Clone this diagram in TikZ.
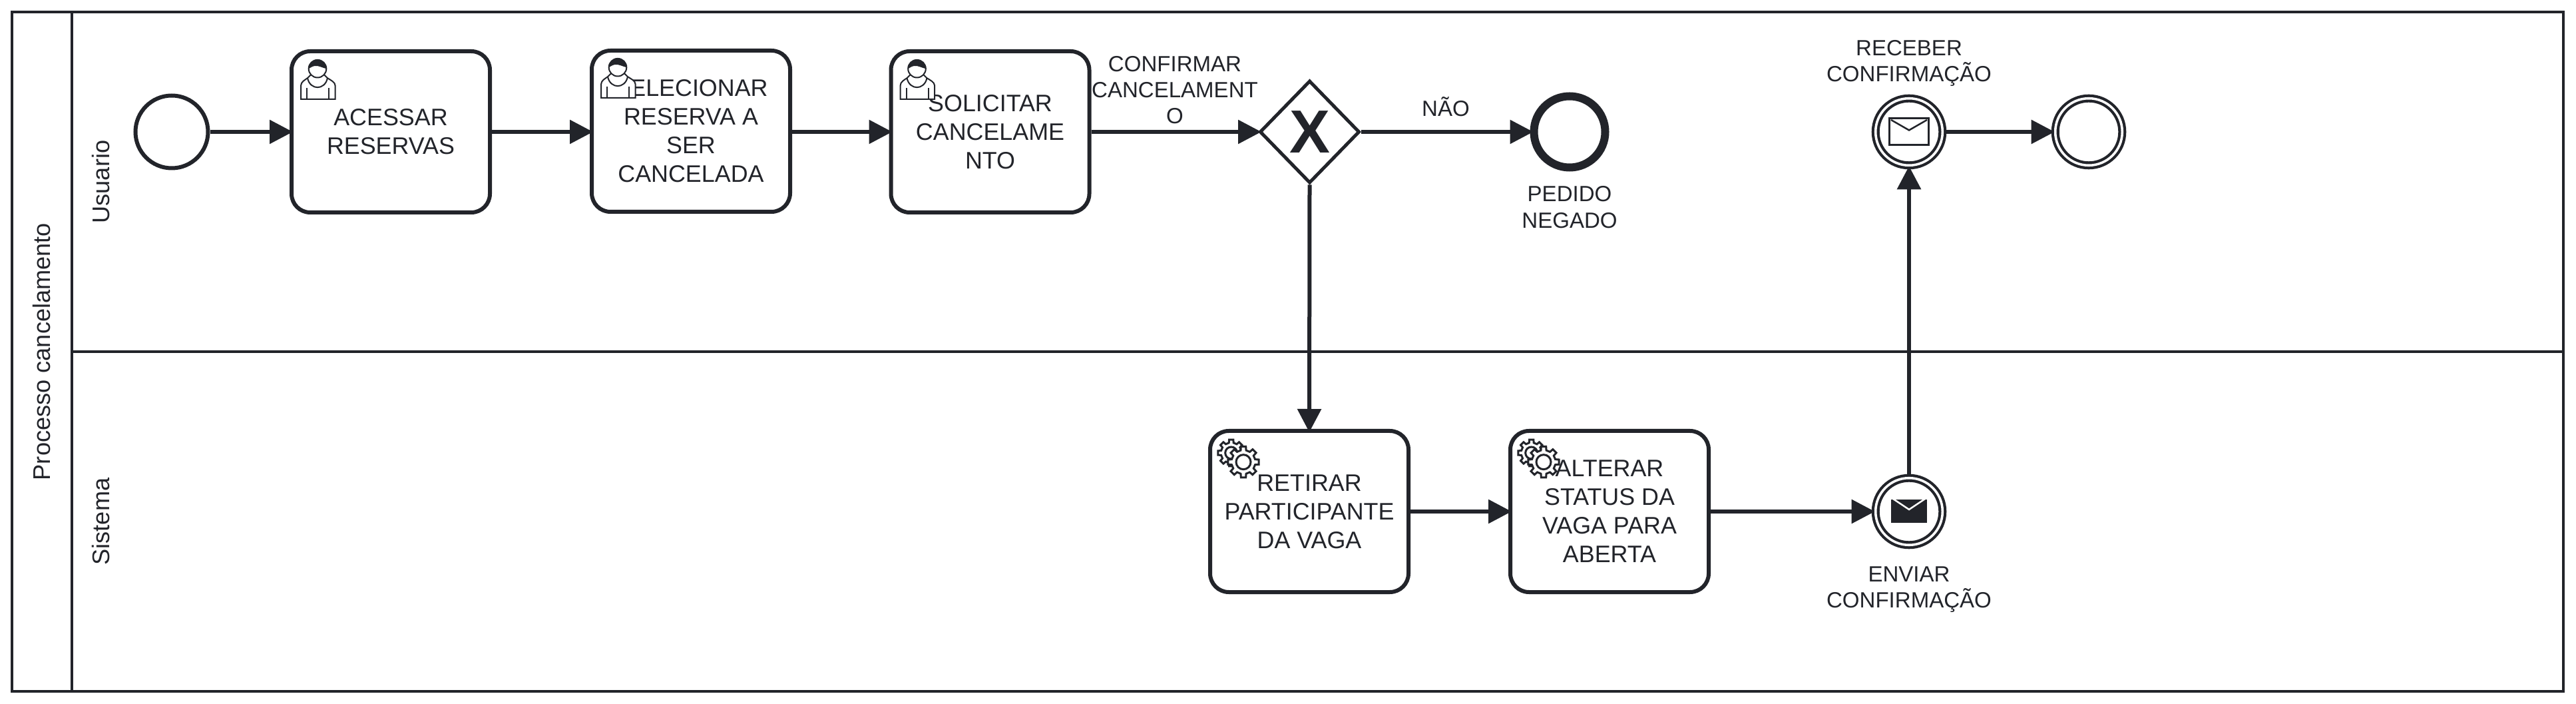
\documentclass[tikz,border=0pt]{standalone}
\usepackage{fontspec}
\setmainfont{Liberation Sans}
\usetikzlibrary{arrows.meta, shapes.geometric}
\definecolor{mDark}{HTML}{22242A}
\newcommand{\gearshape}[5]{%
  \begin{scope}[shift={(#1,#2)}]
    \filldraw[fill=white] (-13:#4) \foreach \a in {0,45,...,315} {
      -- (\a-13:#4) -- (\a-9:#3) -- (\a+9:#3) -- (\a+13:#4)} -- cycle;
    \draw (0,0) circle (#5);
  \end{scope}}
\tikzset{
  usericon/.pic={
    \filldraw[draw=mDark, fill=white, line width=.02cm] (12,-70.8) -- (12,-50.8) .. controls (12,-45) and (18,-42) .. (22,-39.2)
      -- (27,-34.2) -- (47,-34.2) -- (52,-39.2) .. controls (56,-42) and (63.7,-45) .. (63.7,-50.8) -- (63.7,-70.8) -- cycle;
    \draw[line width=.02cm, mDark] (22,-39.2) .. controls (24,-49) and (31,-53.2) .. (37,-53.2) .. controls (43,-53.2) and (50,-49) .. (52,-39.2);
    \draw[line width=.02cm, mDark] (21,-54.2) -- (21,-70.8) (54.3,-54.2) -- (54.3,-70.8);
    \filldraw[draw=mDark, fill=white, line width=.02cm] (37,-25.2) circle (13.3);
    \fill[mDark] (23.7,-25.2) arc (180:0:13.3) .. controls (45,-24) and (38,-20) .. (33,-21) .. controls (29,-21.5) and (26,-24) .. cycle;
  },
  gearicon/.pic={
    \begin{scope}[line width=.03cm, draw=mDark]
      \gearshape{29.7}{-32}{20}{15.5}{9}
      \gearshape{48}{-45.7}{23.5}{18}{11}
    \end{scope}
  },
  mailicon/.pic={
    \draw[line width=.03cm, mDark] (-29.5,20) rectangle (29.5,-20);
    \draw[line width=.025cm, mDark] (-27,18) -- (0,2.5) -- (27,18);
  },
  mailfilled/.pic={
    \fill[mDark] (-27,18) rectangle (27,-17);
    \draw[line width=.025cm, white] (-24,19) -- (0,3) -- (24,19);
  }
}
\begin{document}
\begin{tikzpicture}[
    every node/.style={text=mDark},
    taskbox/.style={draw=mDark, line width=.06cm, rounded corners=.28cm, fill=white, minimum width=2.98cm, minimum height=2.42cm, inner sep=0pt, align=center, font=\fontsize{10.2}{12.25}\selectfont},
    startev/.style={draw=mDark, circle, line width=.06cm, minimum size=1.09cm, inner sep=0pt},
    endev/.style={draw=mDark, circle, line width=.12cm, minimum size=1.07cm, inner sep=0pt},
    dblev/.style={draw=mDark, circle, line width=.042cm, double, double distance=.036cm, minimum size=1.006cm, inner sep=0pt, outer sep=.06cm},
    gate/.style={draw=mDark, diamond, aspect=1, line width=.05cm, minimum width=1.5cm, minimum height=1.54cm, inner sep=0pt, fill=white, font=\fontsize{26}{26}\selectfont\bfseries},
    lbl/.style={align=center, inner sep=0pt, font=\fontsize{9.4}{11.2}\selectfont},
    lanelbl/.style={rotate=90, inner sep=0pt, font=\fontsize{10.3}{12}\selectfont},
    seqflow/.style={-{Triangle[length=.35cm, width=.35cm]}, line width=.06cm, draw=mDark, shorten >=-.05cm}
  ]
  \useasboundingbox (0,0) rectangle (38.7,10.56);
  \draw[line width=.045cm, mDark] (.18,.18) rectangle (38.51,10.38);
  \draw[line width=.04cm, mDark] (1.08,.18) -- (1.08,10.38);
  \draw[line width=.045cm, mDark] (1.08,5.28) -- (38.51,5.28);
  \node[lanelbl] (processo) at (.63,5.28) {Processo cancelamento};
  \node[lanelbl] (usuario) at (1.52,7.83) {Usuario};
  \node[lanelbl] (sistema) at (1.52,2.73) {Sistema};

  \node[startev] (inicio) at (2.58,8.58) {};
  \node[taskbox] (acessar) at (5.87,8.58) {ACESSAR\\RESERVAS};
  \node[taskbox] (selecionar) at (10.38,8.59) {SELECIONAR\\RESERVA A\\SER\\CANCELADA};
  \node[taskbox] (solicitar) at (14.875,8.58) {SOLICITAR\\CANCELAME\\NTO};
  \node[gate] (decisao) at (19.675,8.58) {X};
  \node[endev] (negado) at (23.58,8.58) {};
  \node[dblev] (receber) at (28.68,8.58) {};
  \node[dblev] (fim) at (31.38,8.58) {};
  \node[taskbox] (retirar) at (19.67,2.88) {RETIRAR\\PARTICIPANTE\\DA VAGA};
  \node[taskbox] (alterar) at (24.18,2.88) {ALTERAR\\STATUS DA\\VAGA PARA\\ABERTA};
  \node[dblev] (enviar) at (28.68,2.88) {};

  \node[lbl] (lblconfirmar) at (17.65,9.21) {CONFIRMAR\\CANCELAMENT\\O};
  \node[lbl] (lblnao) at (21.72,8.96) {NÃO};
  \node[lbl] (lblnegado) at (23.58,7.45) {PEDIDO\\NEGADO};
  \node[lbl] (lblreceber) at (28.68,9.61) {RECEBER\\CONFIRMAÇÃO};
  \node[lbl] (lblenviar) at (28.68,1.71) {ENVIAR\\CONFIRMAÇÃO};

  \draw[seqflow] (inicio) -- (acessar);
  \draw[seqflow] (acessar) -- (selecionar.west |- acessar);
  \draw[seqflow] (selecionar.east |- acessar) -- (solicitar);
  \draw[seqflow] (solicitar) -- (decisao);
  \draw[seqflow] (decisao) -- (negado);
  \draw[seqflow] (decisao.south) -- (retirar.north);
  \draw[seqflow] (retirar) -- (alterar);
  \draw[seqflow] (alterar) -- (enviar);
  \draw[seqflow] (enviar) -- (receber);
  \draw[seqflow] (receber) -- (fim);

  \pic[x=.1mm, y=.1mm] at ([xshift=.05cm, yshift=-.04cm]acessar.north west) {usericon};
  \pic[x=.1mm, y=.1mm] at ([xshift=.05cm, yshift=-.03cm]selecionar.north west) {usericon};
  \pic[x=.1mm, y=.1mm] at ([xshift=.05cm, yshift=-.04cm]solicitar.north west) {usericon};
  \pic[x=.1mm, y=.1mm] at ([xshift=.05cm, yshift=-.04cm]retirar.north west) {gearicon};
  \pic[x=.1mm, y=.1mm] at ([xshift=.05cm, yshift=-.04cm]alterar.north west) {gearicon};
  \pic[x=.1mm, y=.1mm] at (receber) {mailicon};
  \pic[x=.1mm, y=.1mm] at (enviar) {mailfilled};
\end{tikzpicture}
\end{document}
